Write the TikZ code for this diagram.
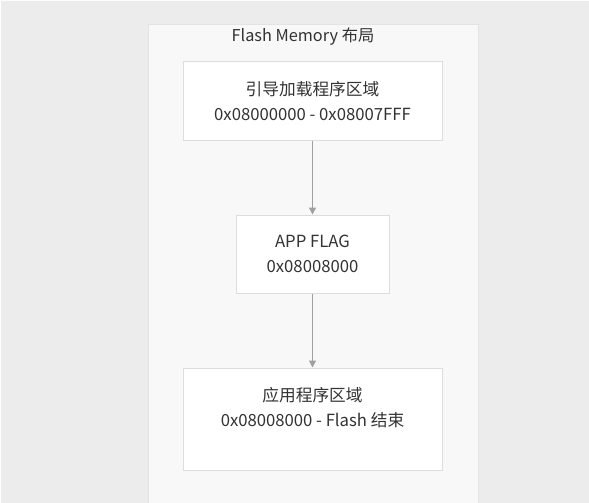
\documentclass[tikz,border=0pt]{standalone}
\usepackage{fontspec}
\setmainfont{Noto Sans CJK SC}
\usetikzlibrary{arrows.meta}
\definecolor{pagebg}{HTML}{ECECEC}
\definecolor{clusterbg}{HTML}{F8F8F8}
\definecolor{clusterln}{HTML}{E3E3E3}
\definecolor{boxln}{HTML}{DDDDDD}
\definecolor{txt}{HTML}{333333}
\definecolor{arr}{HTML}{A0A0A0}
\tikzset{
  membox/.style={draw=boxln, line width=1pt, fill=white, text=txt, align=center,
    font=\fontsize{16.7}{25}\selectfont, inner sep=0pt},
  flow/.style={draw=arr, line width=1.5pt, -{Triangle[length=7pt,width=7pt]}}
}
\begin{document}
\begin{tikzpicture}[x=1pt,y=-1pt]
\useasboundingbox (0,0) rectangle (589,503);
\fill[white] (0,0) rectangle (589,503);
\fill[pagebg, rounded corners=6pt] (1,1) -- (600,1) [sharp corners] -- (600,520) -- (1,520) -- cycle;
\fill[pagebg] (1,10) rectangle (20,520);
\fill[pagebg] (10,1) rectangle (600,20);
\filldraw[fill=clusterbg, draw=clusterln, line width=1pt] (148,25) rectangle (478,515);
\node[text=txt, font=\fontsize{16.3}{18}\selectfont] (title) at (303,37) {Flash Memory 布局};
\node[membox, minimum width=259pt, minimum height=78pt] (boot) at (312.5,101) {引导加载程序区域\\0x08000000 - 0x08007FFF};
\node[membox, minimum width=153pt, minimum height=78pt] (flag) at (312.5,254) {APP FLAG\\0x08008000};
\node[membox, minimum width=259pt, minimum height=102pt, text depth=0pt] (app) at (312.5,419) {};
\node[text=txt, align=center, font=\fontsize{16.7}{25}\selectfont] (applabel) at (312.5,408) {应用程序区域\\0x08008000 - Flash 结束};
\draw[flow] (boot.south) -- (flag.north);
\draw[flow] (flag.south) -- (app.north);
\end{tikzpicture}
\end{document}
